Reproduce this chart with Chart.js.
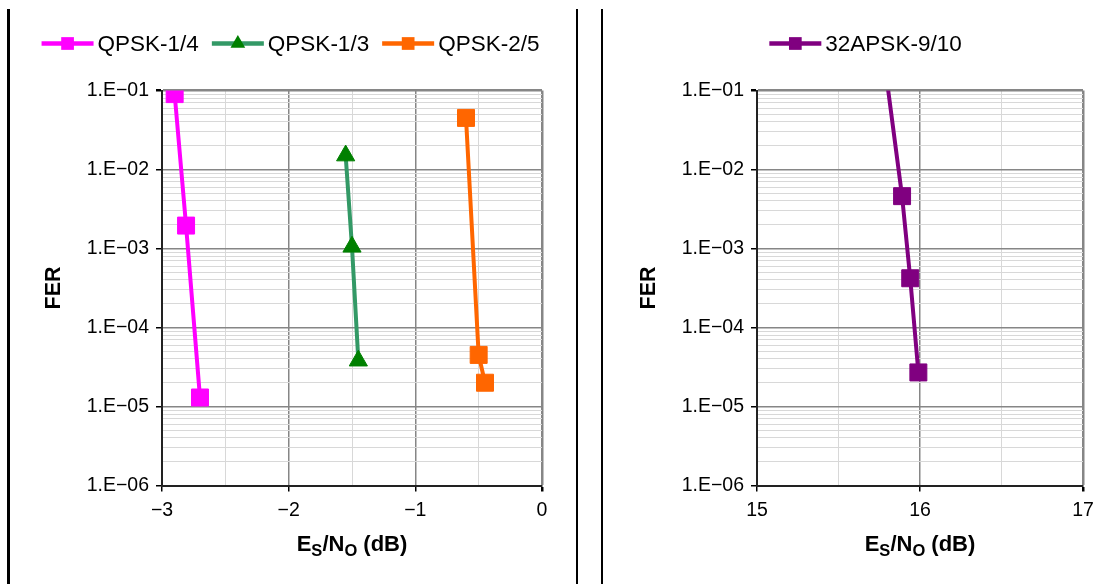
<!doctype html>
<html lang="en">
  <head>
    <meta charset="UTF-8" />
    <title>FER vs Es/No</title>
    <script src="https://cdn.jsdelivr.net/npm/chart.js"></script>
    <style>
      body {
        margin: 0;
        width: 1116px;
        height: 584px;
        background: #fff;
        position: relative;
        overflow: hidden;
        font-family: 'Liberation Sans', Arial, sans-serif;
      }
      .rule {
        position: absolute;
        top: 9px;
        bottom: 0;
        width: 2.5px;
        background: #000;
      }
      .panel {
        position: absolute;
        top: 0;
        height: 584px;
      }
      .xtitle {
        position: absolute;
        top: 533px;
        width: 300px;
        text-align: center;
        font-weight: bold;
        font-size: 22px;
        line-height: 22px;
        color: #000;
      }
      .xtitle sub {
        font-size: 16.5px;
        vertical-align: -5px;
        line-height: 0;
      }
    </style>
  </head>
  <body>
    <div class="rule" style="left: 7px"></div>
    <div class="rule" style="left: 575.5px"></div>
    <div class="rule" style="left: 600.5px"></div>

    <div class="panel" style="left: 10px; width: 565px">
      <canvas id="leftChart" width="565" height="584"></canvas>
    </div>
    <div class="panel" style="left: 605px; width: 511px">
      <canvas id="rightChart" width="511" height="584"></canvas>
    </div>

    <div class="xtitle" style="left: 202px">E<sub>S</sub>/N<sub>O</sub> (dB)</div>
    <div class="xtitle" style="left: 770px">E<sub>S</sub>/N<sub>O</sub> (dB)</div>

    <script>
      const FONT = "'Liberation Sans', Arial, sans-serif";

      // Es/No (dB) and FER of each curve
      const qpsk14Es = [-2.9, -2.81, -2.7];
      const qpsk14Fer = [9.0e-2, 1.95e-3, 1.3e-5];
      const qpsk13Es = [-1.55, -1.5, -1.45];
      const qpsk13Fer = [1.5e-2, 1.05e-3, 3.8e-5];
      const qpsk25Es = [-0.6, -0.5, -0.45];
      const qpsk25Fer = [4.5e-2, 4.5e-5, 2.0e-5];
      const apsk32Es = [15.8, 15.89, 15.94, 15.99];
      const apsk32Fer = [1.2e-1, 4.6e-3, 4.2e-4, 2.7e-5];

      // axes
      const yDecades = [1e-6, 1e-5, 1e-4, 1e-3, 1e-2, 1e-1];
      const yTickLabels = ['1.E\u221206', '1.E\u221205', '1.E\u221204', '1.E\u221203', '1.E\u221202', '1.E\u221201'];
      const xTicksLeft = [-3, -2, -1, 0];
      const xTicksRight = [15, 16, 17];

      function toPoints(xs, ys) {
        return xs.map((x, i) => ({ x: x, y: ys[i] }));
      }

      function fmtX(v) {
        return v < 0 ? '\u2212' + Math.abs(v) : String(v);
      }

      // log grid: 1..9 in every decade, decades are major
      function yGrid() {
        const ticks = [];
        for (let i = 0; i < yDecades.length - 1; i++) {
          for (let k = 1; k <= 9; k++) {
            ticks.push({ value: k === 1 ? yDecades[i] : yDecades[i] * k, major: k === 1 });
          }
        }
        ticks.push({ value: yDecades[yDecades.length - 1], major: true });
        return ticks;
      }

      // linear grid: labelled ticks plus a light line half way
      function xGrid(list) {
        const ticks = [];
        for (let i = 0; i < list.length - 1; i++) {
          ticks.push({ value: list[i], major: true });
          ticks.push({ value: (list[i] + list[i + 1]) / 2, major: false });
        }
        ticks.push({ value: list[list.length - 1], major: true });
        return ticks;
      }

      function gridStyle(lastIndex) {
        return {
          color: (c) => (c.tick && c.tick.major ? '#868686' : '#d8d8d8'),
          lineWidth: (c) => (c.tick && c.tick.major ? (c.index === lastIndex ? 2.5 : 1.5) : 1),
          tickColor: (c) => (c.tick && c.tick.major ? '#000' : 'rgba(0,0,0,0)'),
          tickLength: 6,
        };
      }

      // Excel style legend: line with the marker in the middle, then the label
      function drawMarker(ctx, style, x, y, r) {
        ctx.beginPath();
        if (style === 'triangle') {
          ctx.moveTo(x, y - r);
          ctx.lineTo(x + r * 0.866, y + r / 2);
          ctx.lineTo(x - r * 0.866, y + r / 2);
          ctx.closePath();
        } else {
          const s = r * Math.SQRT1_2;
          ctx.rect(x - s, y - s, 2 * s, 2 * s);
        }
        ctx.fill();
      }

      const lineLegend = {
        id: 'lineLegend',
        afterDraw(chart, args, opts) {
          const ctx = chart.ctx;
          ctx.save();
          ctx.font = '22.5px ' + FONT;
          const items = chart.data.datasets.map((ds) => ({ ds: ds, w: ctx.measureText(ds.label).width }));
          const lineLen = 52;
          const gap = 4;
          const spacing = 13;
          let total = 0;
          items.forEach((it) => (total += lineLen + gap + it.w));
          total += spacing * (items.length - 1);
          let x = opts.centerX - total / 2;
          const y = opts.y;
          items.forEach((it) => {
            ctx.strokeStyle = it.ds.borderColor;
            ctx.lineWidth = 4.5;
            ctx.beginPath();
            ctx.moveTo(x, y);
            ctx.lineTo(x + lineLen, y);
            ctx.stroke();
            ctx.fillStyle = it.ds.pointBackgroundColor;
            drawMarker(ctx, it.ds.pointStyle, x + lineLen / 2, y, it.ds.pointStyle === 'triangle' ? 8.5 : 9);
            ctx.fillStyle = '#000';
            ctx.textBaseline = 'middle';
            ctx.textAlign = 'left';
            ctx.fillText(it.ds.label, x + lineLen + gap, y + 1);
            x += lineLen + gap + it.w + spacing;
          });
          ctx.restore();
        },
      };

      function series(label, pts, line, marker, style, radius) {
        return {
          label: label,
          data: pts,
          borderColor: line,
          backgroundColor: marker,
          pointBackgroundColor: marker,
          pointBorderColor: marker,
          pointStyle: style,
          pointRadius: (c) => (c.raw && c.raw.y > yDecades[yDecades.length - 1] ? 0 : radius),
          pointHoverRadius: radius,
          pointBorderWidth: 1,
          borderWidth: 4,
          tension: 0,
        };
      }

      function buildChart(canvasId, datasets, xTicks, yWidth, padRight, legendX) {
        const yTicks = yGrid();
        const xt = xGrid(xTicks);
        return new Chart(document.getElementById(canvasId), {
          type: 'line',
          data: { datasets: datasets },
          options: {
            responsive: false,
            animation: false,
            devicePixelRatio: 1,
            layout: { padding: { top: 90.5, right: padRight, left: 0, bottom: 0 } },
            plugins: {
              legend: { display: false },
              tooltip: { enabled: false },
              lineLegend: { centerX: legendX, y: 43.5 },
            },
            scales: {
              x: {
                type: 'linear',
                min: xTicks[0],
                max: xTicks[xTicks.length - 1],
                afterBuildTicks: (s) => (s.ticks = xt),
                afterFit: (s) => (s.height = 98.5),
                ticks: {
                  autoSkip: false,
                  maxRotation: 0,
                  padding: 7,
                  color: '#000',
                  font: { family: FONT, size: 19.5 },
                  callback: (v) => (xTicks.includes(v) ? fmtX(v) : ''),
                },
                grid: gridStyle(xt.length - 1),
                border: { color: '#222', width: 2 },
              },
              y: {
                type: 'logarithmic',
                min: yDecades[0],
                max: yDecades[yDecades.length - 1],
                afterBuildTicks: (s) => (s.ticks = yTicks),
                afterFit: (s) => (s.width = yWidth),
                ticks: {
                  autoSkip: false,
                  padding: 7,
                  color: '#000',
                  font: { family: FONT, size: 19.5 },
                  callback: (v) => {
                    const i = yDecades.indexOf(v);
                    return i >= 0 ? yTickLabels[i] : '';
                  },
                },
                grid: gridStyle(yTicks.length - 1),
                border: { color: '#222', width: 2 },
                title: {
                  display: true,
                  text: 'FER',
                  color: '#000',
                  font: { family: FONT, size: 21.5, weight: 'bold' },
                  padding: { top: 31, bottom: 0 },
                },
              },
            },
          },
          plugins: [lineLegend],
        });
      }

      buildChart(
        'leftChart',
        [
          series('QPSK-1/4', toPoints(qpsk14Es, qpsk14Fer), '#FF00FF', '#FF00FF', 'rect', 12),
          series('QPSK-1/3', toPoints(qpsk13Es, qpsk13Fer), '#339966', '#008000', 'triangle', 10.5),
          series('QPSK-2/5', toPoints(qpsk25Es, qpsk25Fer), '#FF6600', '#FF6600', 'rect', 12),
        ],
        xTicksLeft,
        152,
        33,
        280.5
      );

      buildChart(
        'rightChart',
        [series('32APSK-9/10', toPoints(apsk32Es, apsk32Fer), '#800080', '#800080', 'rect', 12)],
        xTicksRight,
        152,
        33,
        260.5
      );
    </script>
  </body>
</html>
